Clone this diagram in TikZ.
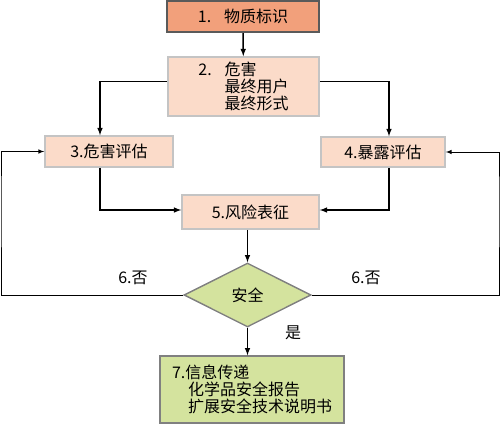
\documentclass[tikz,border=0pt]{standalone}
\usepackage{xcolor}
\usepackage{fontspec}
\setmainfont{Noto Sans CJK SC}
\usetikzlibrary{shapes,arrows,positioning,calc}
\definecolor{idfill}{HTML}{F2A07B}
\definecolor{idline}{HTML}{5A5A5A}
\definecolor{peach}{HTML}{FBDBC9}
\definecolor{peachline}{HTML}{C4C4C4}
\definecolor{leaf}{HTML}{D4E39E}
\definecolor{leafline}{HTML}{808080}

\begin{document}
\begin{tikzpicture}[
			x = 1pt, y = -1pt,
			every node/.style = {font = \fontsize{16}{17}\selectfont},
			box/.style = {draw = peachline, fill = peach, line width = 1.6pt, inner sep = 0},
			idbox/.style = {draw = idline, fill = idfill, line width = 2pt, inner sep = 0},
			leafbox/.style = {draw = leafline, fill = leaf, line width = 1.4pt, inner sep = 0},
			flow/.style = {->, >=latex, line width = 1.5pt},
			back/.style = {->, >=latex, line width = 1pt}]

			\useasboundingbox (0,0) rectangle (500,424);

			\node[idbox, minimum width = 152pt, minimum height = 31pt] (ident) at (243,16.5) {1.\hspace{0.8em}物质标识};
			\node[box, minimum width = 151pt, minimum height = 59pt, align = left] (desc) at (243.5,86.5)
				{2.\hspace{0.8em}危害\\\phantom{2.}\hspace{0.8em}最终用户\\\phantom{2.}\hspace{0.8em}最终形式};
			\node[box, minimum width = 128pt, minimum height = 31pt] (hazard) at (109,151.5) {3.危害评估};
			\node[box, minimum width = 124pt, minimum height = 30pt] (expo) at (383,152) {4.暴露评估};
			\node[box, minimum width = 137pt, minimum height = 34pt] (risk) at (250.5,212) {5.风险表征};
			\node[leafbox, diamond, minimum width = 127pt, minimum height = 64pt] (safe) at (247.5,295) {安全};
			\node[leafbox, minimum width = 184pt, minimum height = 67pt, align = left] (info) at (252,389.5)
				{7.信息传递\\\hspace{1em}化学品安全报告\\\hspace{1em}扩展安全技术说明书};

			\draw[flow] (ident) -- (desc);
			\draw[flow] ([yshift=5pt]desc.west) -| ([xshift=-9pt]hazard.north);
			\draw[flow] ([yshift=5pt]desc.east) -| ([xshift=6pt]expo.north);
			\draw[flow] ([xshift=-9pt]hazard.south) |- ([yshift=2pt]risk.west);
			\draw[flow] ([xshift=6pt]expo.south) |- ([yshift=2pt]risk.east);
			\draw[flow] (risk.south -| safe.north) -- (safe.north);
			\draw[flow] (safe.south) -- (safe.south |- info.north);

			\coordinate (loopL) at (1,200);
			\coordinate (loopR) at (499,200);
			\draw[back] (safe.west) -| (loopL) |- (hazard.west);
			\draw[back] (safe.east) -| (loopR) |- (expo.east);

			\node (noL) at (133,278) {6.否};
			\node (noR) at (366,278) {6.否};
			\node (yes) at (293,333) {是};

		\end{tikzpicture}
\end{document}
